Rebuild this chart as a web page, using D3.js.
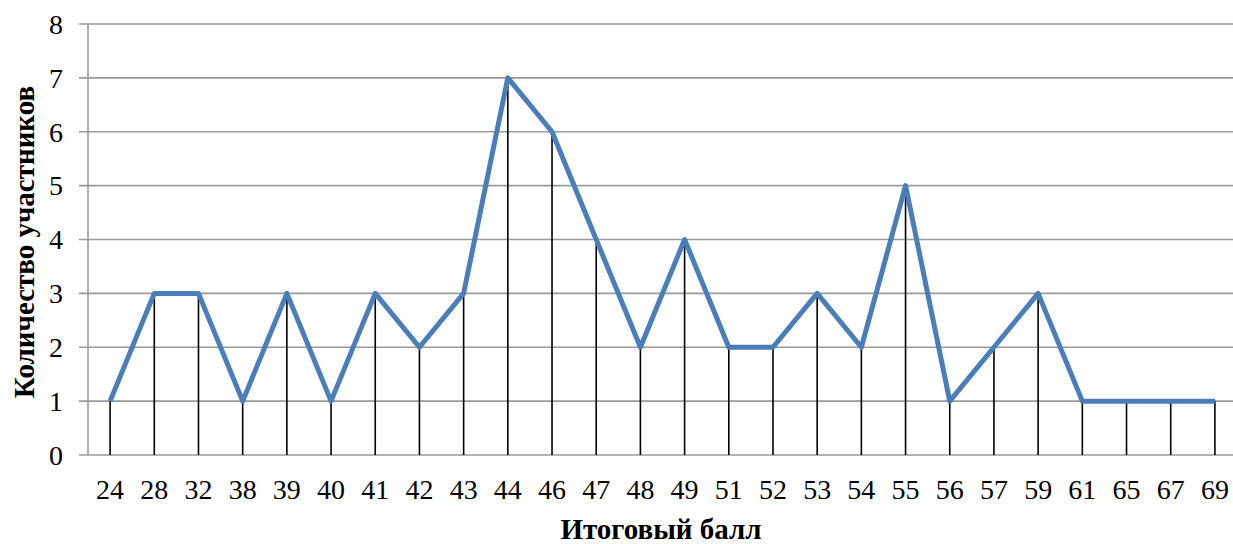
<!DOCTYPE html>
<meta charset="utf-8">
<style>
    body { margin: 0; background: #fff; }
    text { font-family: "Liberation Serif", "Times New Roman", serif; fill: #000; }
</style>
<svg width="1233" height="544"></svg>
<script src="https://d3js.org/d3.v7.min.js"></script>
<script>

    // scores and number of participants
    var scores = ["24","28","32","38","39","40","41","42","43","44","46","47","48","49",
                  "51","52","53","54","55","56","57","59","61","65","67","69"];
    var counts = [1,3,3,1,3,1,3,2,3,7,6,4,2,4,2,2,3,2,5,1,2,3,1,1,1,1];
    var yTicks = [0,1,2,3,4,5,6,7,8];

    var svg = d3.select("svg"),
        plotLeft = 88,
        plotRight = 1237,
        plotTop = 24,
        plotBottom = 455;

    var x = d3.scaleBand()
        .domain(scores)
        .range([plotLeft, plotRight]);

    var y = d3.scaleLinear()
        .domain([0, 8])
        .range([plotBottom, plotTop]);

    // horizontal gridlines
    svg.append("g")
        .selectAll("line")
        .data(yTicks)
        .enter().append("line")
        .attr("x1", plotLeft - 9)
        .attr("x2", 1233)
        .attr("y1", function(d) { return y(d); })
        .attr("y2", function(d) { return y(d); })
        .attr("stroke", "#9a9a9a")
        .attr("stroke-width", 1.6);

    // vertical axis line
    svg.append("line")
        .attr("x1", plotLeft).attr("x2", plotLeft)
        .attr("y1", plotTop).attr("y2", plotBottom)
        .attr("stroke", "#9a9a9a")
        .attr("stroke-width", 1.6);

    // y tick labels
    svg.append("g")
        .selectAll("text")
        .data(yTicks)
        .enter().append("text")
        .attr("x", 63)
        .attr("y", function(d) { return y(d); })
        .attr("dy", "0.35em")
        .attr("text-anchor", "end")
        .style("font-size", "28px")
        .text(function(d) { return d; });

    // x tick labels
    svg.append("g")
        .selectAll("text")
        .data(scores)
        .enter().append("text")
        .attr("x", function(d) { return x(d) + x.bandwidth() / 2; })
        .attr("y", 499)
        .attr("text-anchor", "middle")
        .style("font-size", "28px")
        .text(function(d) { return d; });

    var cx = function(d, i) { return x(scores[i]) + x.bandwidth() / 2; };

    // drop lines
    svg.append("g")
        .selectAll("line")
        .data(counts)
        .enter().append("line")
        .attr("x1", cx)
        .attr("x2", cx)
        .attr("y1", function(d) { return y(d); })
        .attr("y2", plotBottom)
        .attr("stroke", "#000")
        .attr("stroke-width", 1.6);

    // the series
    var line = d3.line()
        .x(function(d, i) { return cx(d, i); })
        .y(function(d) { return y(d); });

    svg.append("path")
        .datum(counts)
        .attr("d", line)
        .attr("fill", "none")
        .attr("stroke", "#4a7ebb")
        .attr("stroke-width", 5)
        .attr("stroke-linejoin", "round");

    // axis titles
    svg.append("text")
        .attr("x", 661)
        .attr("y", 539)
        .attr("text-anchor", "middle")
        .style("font-size", "29px")
        .style("font-weight", "bold")
        .text("Итоговый балл");

    svg.append("text")
        .attr("transform", "translate(34,242) rotate(-90)")
        .attr("text-anchor", "middle")
        .style("font-size", "29px")
        .style("font-weight", "bold")
        .text("Количество участников");

</script>
